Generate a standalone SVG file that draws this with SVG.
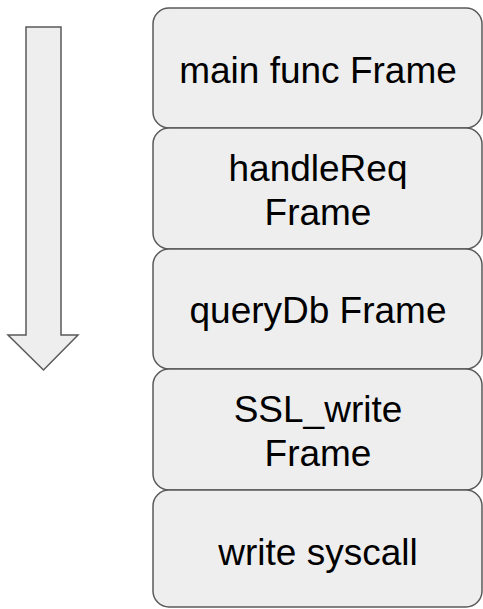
<svg xmlns="http://www.w3.org/2000/svg" width="483" height="609" viewBox="0 0 483 609">
  <style>
    .frame { fill: #eeeeee; stroke: #595959; stroke-width: 1.5; }
    .label { font-family: "Liberation Sans", Arial, sans-serif; font-size: 37px; fill: #000000; text-anchor: middle; }
  </style>
  <rect width="483" height="609" fill="#ffffff"/>

  <!-- call direction arrow -->
  <g id="connectors">
    <path class="frame" d="M26,27 H61 V335 H78 L43.5,370 L8,335 H26 Z"/>
  </g>

  <!-- stack frames -->
  <g id="frame-main">
    <rect class="frame" x="153" y="8" width="329" height="120" rx="16" ry="16"/>
    <text class="label" x="318" y="83">main func Frame</text>
  </g>
  <g id="frame-handleReq">
    <rect class="frame" x="153" y="128" width="329" height="121" rx="16" ry="16"/>
    <text class="label" x="318" y="181">handleReq</text>
    <text class="label" x="318" y="225">Frame</text>
  </g>
  <g id="frame-queryDb">
    <rect class="frame" x="153" y="249" width="329" height="120" rx="16" ry="16"/>
    <text class="label" x="318" y="323">queryDb Frame</text>
  </g>
  <g id="frame-SSL_write">
    <rect class="frame" x="153" y="369" width="329" height="121" rx="16" ry="16"/>
    <text class="label" x="318" y="422">SSL_write</text>
    <text class="label" x="318" y="466">Frame</text>
  </g>
  <g id="frame-write">
    <rect class="frame" x="153" y="490" width="329" height="117" rx="16" ry="16"/>
    <text class="label" x="318" y="565">write syscall</text>
  </g>
</svg>
